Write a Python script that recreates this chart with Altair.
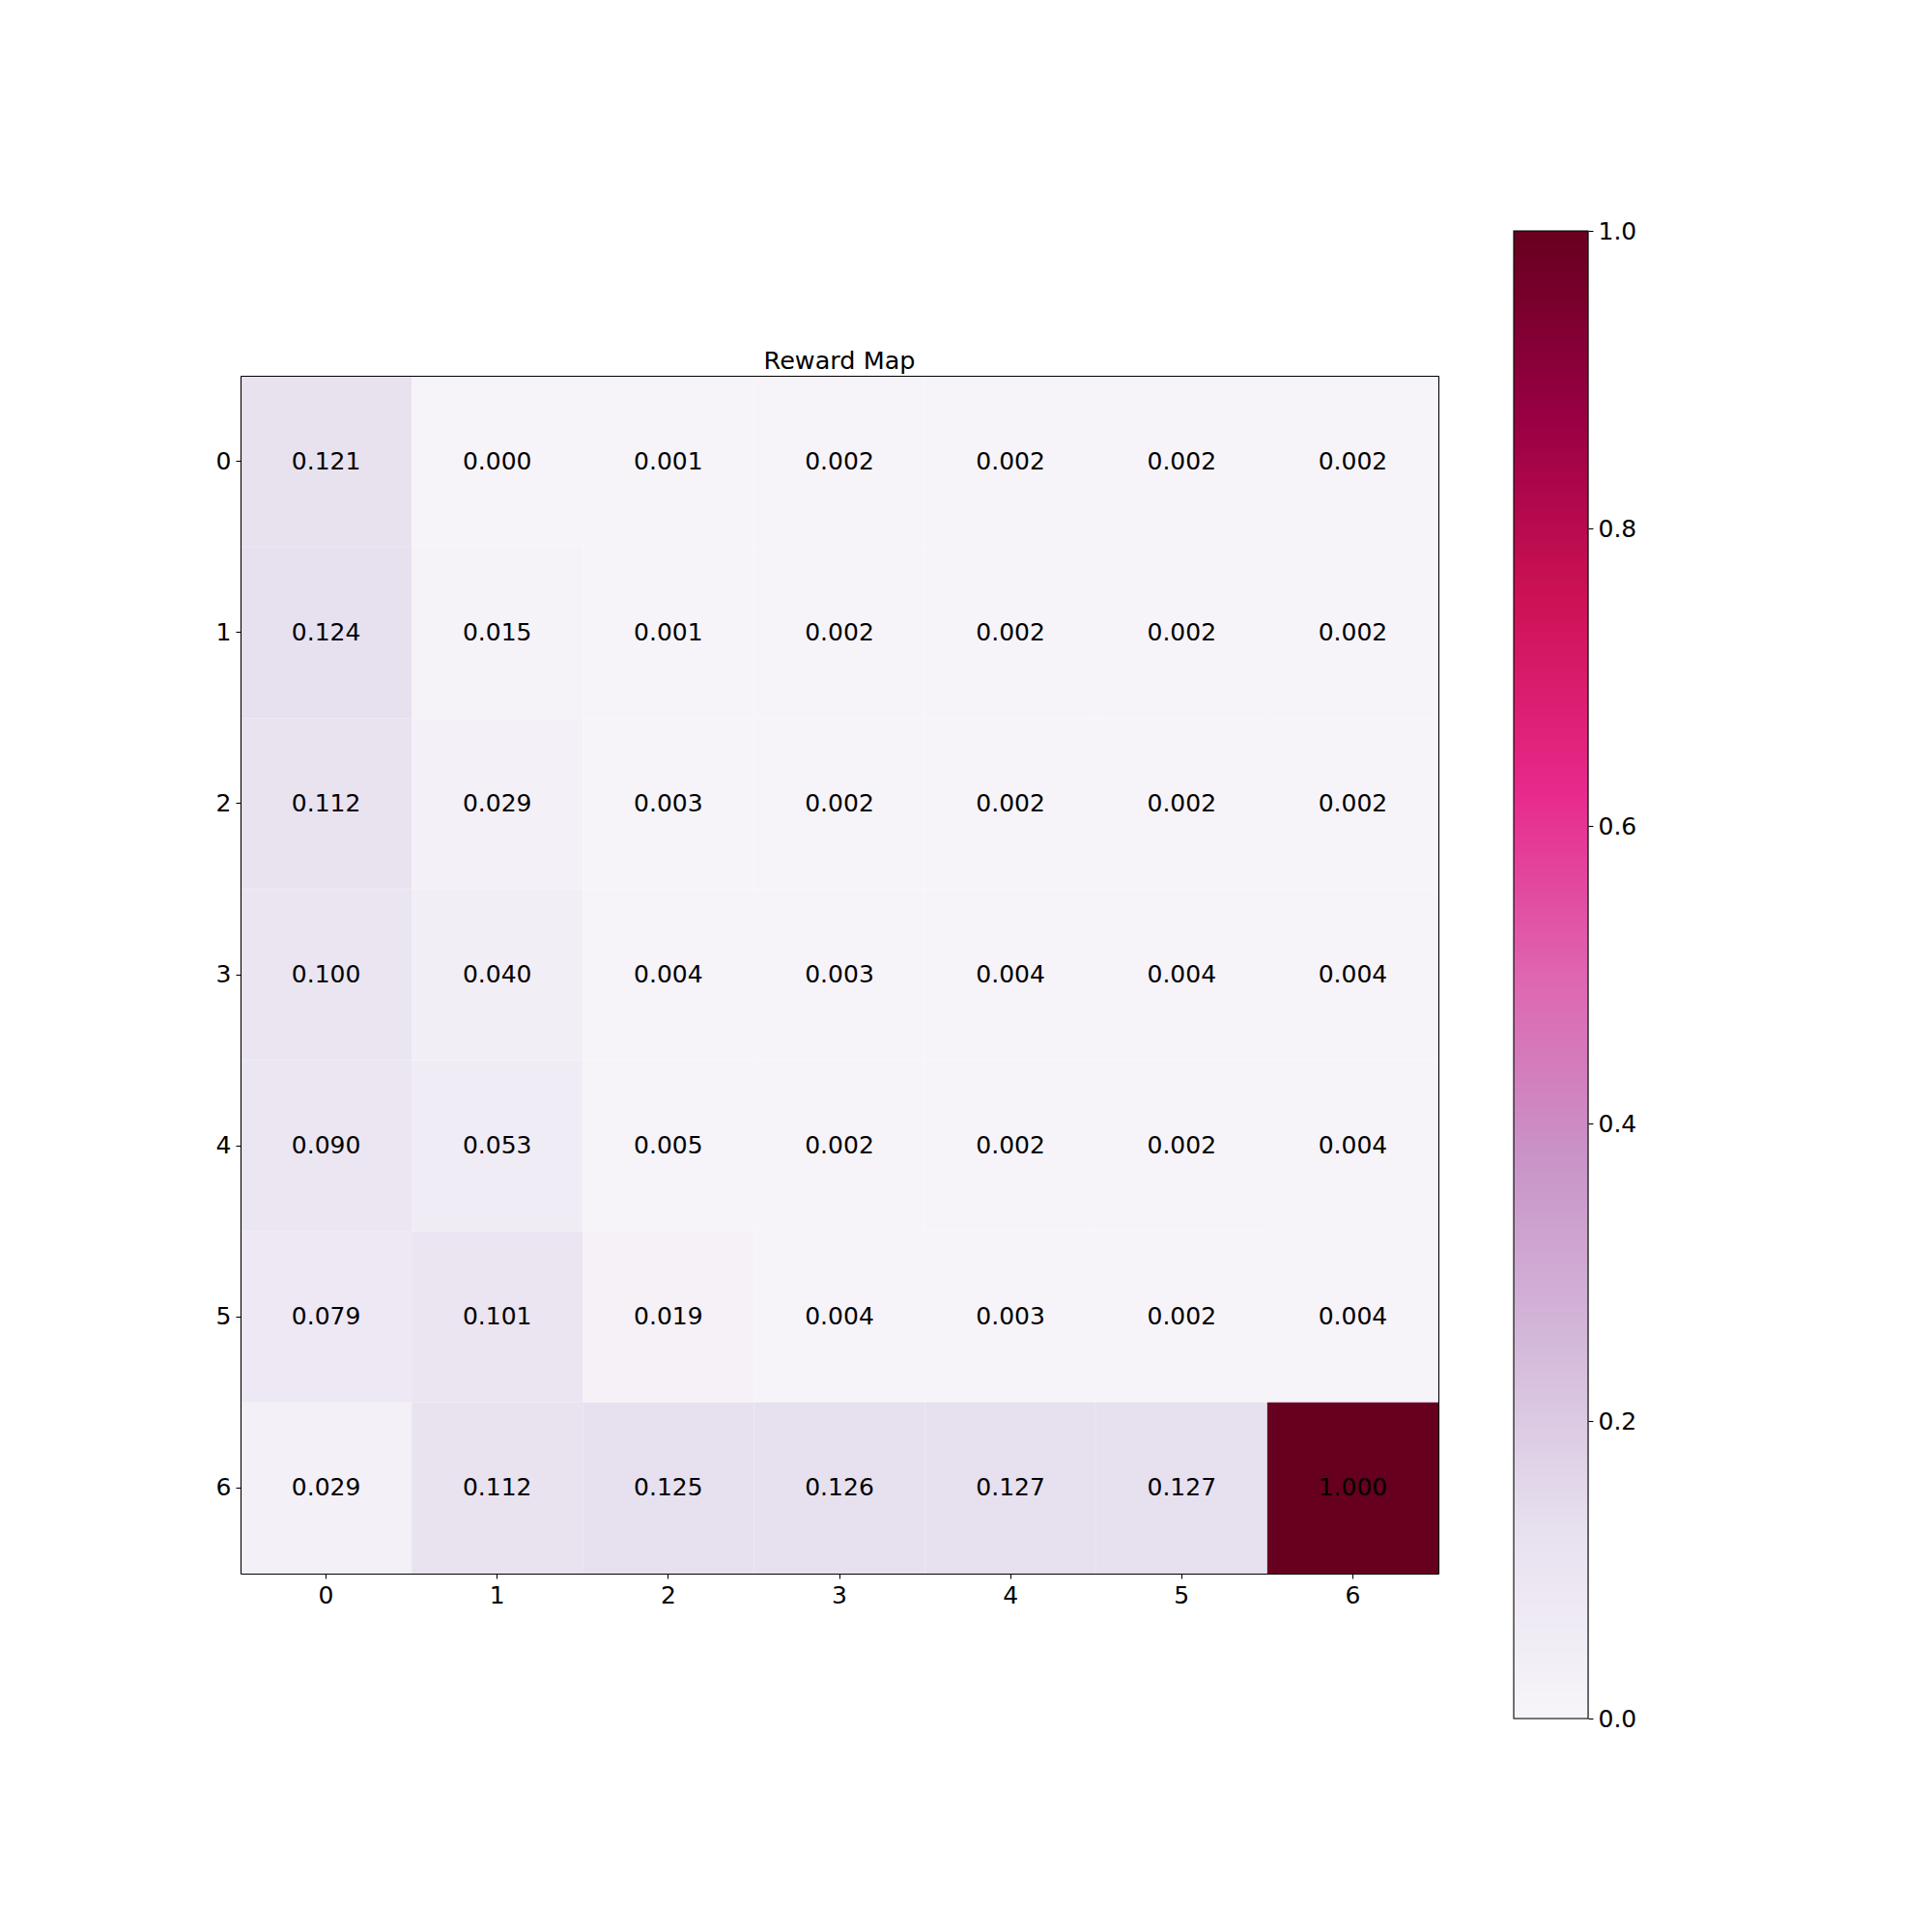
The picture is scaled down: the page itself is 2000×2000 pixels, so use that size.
import altair as alt
import pandas as pd

rows = [0, 1, 2, 3, 4, 5, 6]
cols = [0, 1, 2, 3, 4, 5, 6]
row0 = [0.121, 0.000, 0.001, 0.002, 0.002, 0.002, 0.002]
row1 = [0.124, 0.015, 0.001, 0.002, 0.002, 0.002, 0.002]
row2 = [0.112, 0.029, 0.003, 0.002, 0.002, 0.002, 0.002]
row3 = [0.100, 0.040, 0.004, 0.003, 0.004, 0.004, 0.004]
row4 = [0.090, 0.053, 0.005, 0.002, 0.002, 0.002, 0.004]
row5 = [0.079, 0.101, 0.019, 0.004, 0.003, 0.002, 0.004]
row6 = [0.029, 0.112, 0.125, 0.126, 0.127, 0.127, 1.000]
grid = [row0, row1, row2, row3, row4, row5, row6]

purd = ["#f7f4f9", "#e7e1ef", "#d4b9da", "#c994c7", "#df65b0",
        "#e7298a", "#ce1256", "#980043", "#67001f"]
stops = [i / 8 for i in range(9)]
cbar_ticks = [0.0, 0.2, 0.4, 0.6, 0.8, 1.0]

records = []
for r, vals in zip(rows, grid):
    for c, v in zip(cols, vals):
        records.append({"row": r, "col": c, "value": v, "label": f"{v:.3f}"})
df = pd.DataFrame(records)

color_scale = alt.Scale(domain=stops, range=purd, interpolate="rgb")
FS = 25
FW = 1.1

band = alt.Scale(paddingInner=0, paddingOuter=0)

def main_axis(**kw):
    return alt.Axis(title=None, labelAngle=0, domain=True, domainColor="black",
                    domainWidth=FW, tickSize=5, tickWidth=FW, labelPadding=5,
                    labelFontSize=FS, tickColor="black", labelColor="black",
                    zindex=1, **kw)

def frame_axis(orient):
    return alt.Axis(title=None, orient=orient, labels=False, ticks=False, domain=True,
                    domainColor="black", domainWidth=FW, zindex=1, grid=False)

heat = alt.Chart(df).mark_rect().encode(
    x=alt.X("col:O", scale=band, axis=main_axis(orient="bottom")),
    y=alt.Y("row:O", scale=band, axis=main_axis(orient="left")),
    color=alt.Color("value:Q", scale=color_scale, legend=None),
)
text = alt.Chart(df).mark_text(fontSize=FS, color="black", font="DejaVu Sans").encode(
    x=alt.X("col:O", scale=band, axis=frame_axis("top")),
    y=alt.Y("row:O", scale=band, axis=frame_axis("right")),
    text="label:N",
)

main = alt.layer(heat, text).resolve_axis(x="independent", y="independent").properties(
    width=1240, height=1240,
    title=alt.TitleParams("Reward Map", fontSize=25.5, fontWeight="normal",
                          font="DejaVu Sans", offset=2, color="black"),
)

cy = alt.Scale(domain=[0, 1], nice=False, zero=True)
ramp = alt.Chart(alt.sequence(0, 1, 0.002, as_="v")).transform_calculate(
    v2="min(datum.v + 0.004, 1)", c="'a'"
).mark_rect(strokeWidth=0).encode(
    x=alt.X("c:N", scale=band, axis=None),
    y=alt.Y("v:Q", scale=cy,
            axis=alt.Axis(orient="right", title=None, values=cbar_ticks, format=".1f",
                          domain=False, grid=False, tickSize=5, tickWidth=FW,
                          labelPadding=5, labelFontSize=FS, tickColor="black",
                          labelColor="black", zindex=1)),
    y2="v2:Q",
    color=alt.Color("v:Q", scale=color_scale, legend=None),
)
frame = alt.Chart(pd.DataFrame({"c": ["a"], "lo": [0.0], "hi": [1.0]})).mark_rect(
    fillOpacity=0, stroke="black", strokeWidth=FW
).encode(
    x=alt.X("c:N", scale=band, axis=None),
    y=alt.Y("lo:Q", scale=cy),
    y2="hi:Q",
)
cbar = alt.layer(ramp, frame).properties(width=77, height=1540)

chart = alt.hconcat(main, cbar, spacing=78, center=True, bounds="flush").properties(
    padding={"left": 222, "top": 226, "right": 10, "bottom": 10}
).configure_view(stroke=None).configure(
    font="DejaVu Sans", background="white"
)

chart.save("out.html", embed_options={"renderer": "svg", "actions": False})
